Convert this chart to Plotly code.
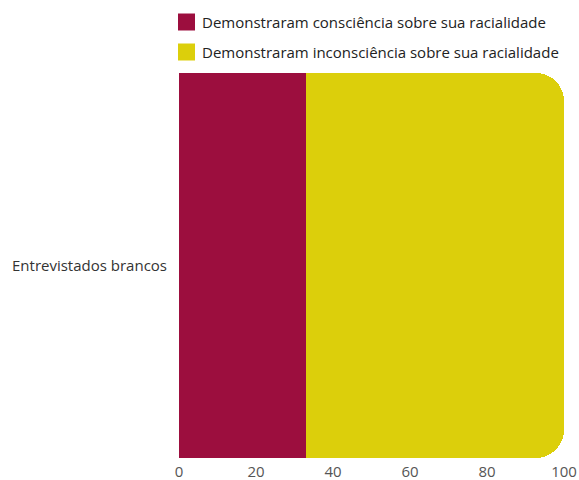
import plotly.graph_objects as go

categories = ["Entrevistados brancos"]
series_names = [
    "Demonstraram consciência sobre sua racialidade",
    "Demonstraram inconsciência sobre sua racialidade",
]
consciencia = [33]
inconsciencia = [67]
colors = ["#9c0e3e", "#dccf0b"]

fig = go.Figure()
for i, (name, vals) in enumerate(zip(series_names, [consciencia, inconsciencia])):
    fig.add_trace(go.Bar(
        x=vals, y=categories, orientation="h", name=name,
        marker=dict(color=colors[i], line=dict(width=0)),
        hoverinfo="x+name",
    ))

# Legend drawn as square swatches with labels above the plot area
legend_rows = [51, 21]  # pixel offset of each row centre above the plot top
for i, name in enumerate(series_names):
    cy = legend_rows[i]
    fig.add_shape(
        type="rect", xref="paper", yref="paper",
        xsizemode="pixel", ysizemode="pixel", xanchor=0, yanchor=1,
        x0=-1, x1=16, y0=cy - 8.5, y1=cy + 8.5,
        fillcolor=colors[i], line=dict(width=0),
    )
    fig.add_annotation(
        text=name, xref="paper", yref="paper", x=0, y=1,
        xanchor="left", yanchor="middle", xshift=21, yshift=cy,
        showarrow=False, font=dict(size=15, color="#222222"),
    )

fig.update_layout(
    width=579, height=480,
    barmode="stack", bargap=0, barcornerradius=28,
    margin=dict(l=179, r=15, t=73, b=22, autoexpand=False),
    paper_bgcolor="white", plot_bgcolor="white",
    font=dict(family="Open Sans", color="#333333", size=15),
    showlegend=False,
    xaxis=dict(
        range=[0, 100], tickvals=[0, 20, 40, 60, 80, 100],
        showgrid=True, gridcolor="#e8e8e8", zeroline=False,
        tickfont=dict(size=15, color="#555555"), ticks="",
        ticklabelstandoff=3, fixedrange=True,
    ),
    yaxis=dict(
        showgrid=False, ticks="", tickfont=dict(size=15, color="#333333"),
        ticklabelstandoff=11, fixedrange=True,
    ),
)

fig.write_html("out.html")
